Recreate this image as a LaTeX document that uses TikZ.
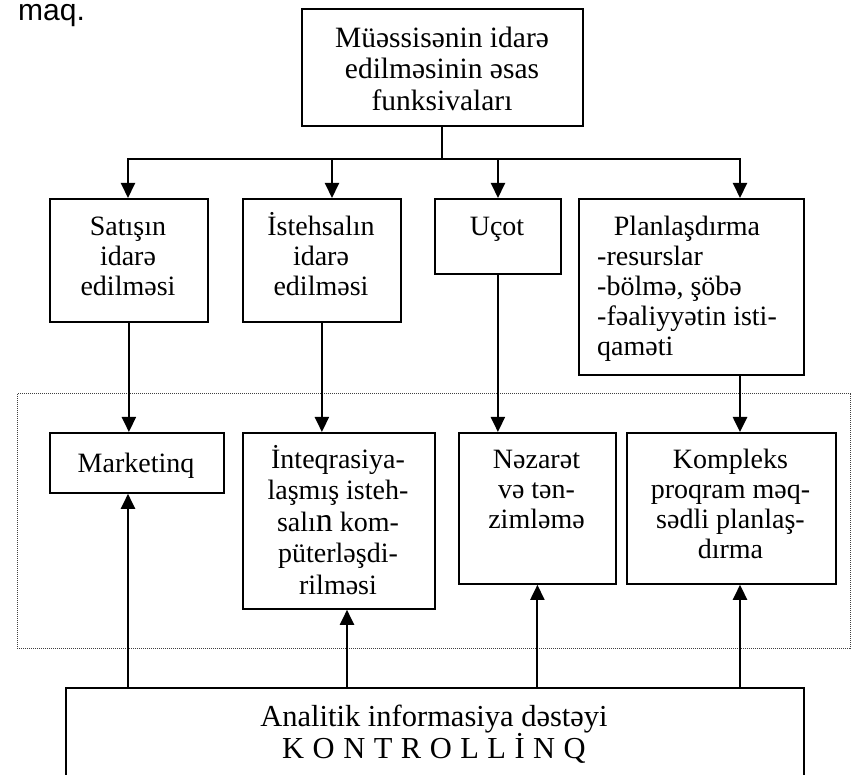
\documentclass[tikz,border=0pt]{standalone}
\usepackage{fontspec}
\setmainfont{Liberation Serif}
\newfontfamily\headsans{Liberation Sans}
\usetikzlibrary{arrows.meta}

\newcommand\capstrut{\rule{0pt}{24pt}}
\newcommand\bigstrut{\rule{0pt}{25pt}}

\begin{document}
\begin{tikzpicture}[x=1pt,y=-1pt,
  box/.style={draw, line width=1.8pt, inner sep=0pt, anchor=north west},
  lbl/.style={inner sep=0pt, anchor=north, align=center, font=\fontsize{28}{30}\selectfont},
  tip/.style={-{Triangle[length=15pt,width=14pt]}},
  arr/.style={line width=2pt, tip},
  heavy/.style={line width=2.6pt, tip},
  link/.style={line width=2pt},
  frame/.style={draw=black!75, line width=1pt, dash pattern=on 1pt off 1pt}]

\useasboundingbox (0,0) rectangle (852,775);
\fill[white] (0,0) rectangle (852,775);
\clip (0,0) rectangle (852,775);

% leftover of the preceding line of text
\node[anchor=base west, inner sep=0pt, font=\headsans\fontsize{30}{30}\selectfont] (maq) at (18,21) {maq.};

% head block
\node[box, minimum width=281pt, minimum height=117pt] (top) at (301,8) {};
\node[lbl, font=\fontsize{29.5}{31.5}\selectfont] (topt) at (442,22)
  {\bigstrut Müəssisənin idarə\\edilməsinin əsas\\funksivaları};

% first row: functions
\node[box, minimum width=158pt, minimum height=123pt] (sat) at (49,198) {};
\node[lbl] (satt) at (128,211) {\capstrut Satışın\\idarə\\edilməsi};

\node[box, minimum width=158pt, minimum height=123pt] (ist) at (242,198) {};
\node[lbl] (istt) at (321,211) {\capstrut İstehsalın\\idarə\\edilməsi};

\node[box, minimum width=126pt, minimum height=75pt] (ucot) at (434,198) {};
\node[lbl] (ucott) at (497,211) {\capstrut Uçot};

\node[box, minimum width=225pt, minimum height=176pt] (plan) at (578,198) {};
\node[inner sep=0pt, anchor=north west, font=\fontsize{28}{30}\selectfont] (plant) at (597,211)
  {\begin{tabular}{@{}l@{}}
     \multicolumn{1}{@{}c@{}}{\capstrut Planlaşdırma}\\
     -resurslar\\
     -bölmə, şöbə\\
     -fəaliyyətin isti-\\
     qaməti
   \end{tabular}};

% dotted frame around the second row
\draw[frame] (17,394) rectangle (850,648);

% second row: controlling tasks
\node[box, minimum width=174pt, minimum height=60pt] (mark) at (49,432) {};
\node[lbl] (markt) at (136,448) {\capstrut Marketinq};

\node[box, minimum width=192pt, minimum height=176pt] (int) at (242,432) {};
\node[lbl, font=\fontsize{28}{31.5}\selectfont] (intt) at (338,444)
  {\capstrut İnteqrasiya-\\laşmış isteh-\\salı{\fontsize{34}{31.5}\selectfont n} kom-\\püterləşdi-\\rilməsi};

\node[box, minimum width=157pt, minimum height=151pt] (nez) at (458,432) {};
\node[lbl] (nezt) at (536.5,444) {\capstrut Nəzarət\\və tən-\\zimləmə};

\node[box, minimum width=209pt, minimum height=151pt] (komp) at (626,432) {};
\node[lbl] (kompt) at (730.5,444) {\capstrut Kompleks\\proqram məq-\\sədli planlaş-\\dırma};

% analytic support block
\node[box, minimum width=738pt, minimum height=150pt] (bot) at (65,687) {};
\node[lbl, font=\fontsize{30.5}{31.5}\selectfont] (bott) at (434,701)
  {\bigstrut Analitik informasiya dəstəyi\\{\spaceskip=8.5pt K O N T R O L L İ N Q}};

% distribution bus
\coordinate (b1) at (128,159);
\coordinate (b2) at (332,159);
\coordinate (b3) at (498,159);
\coordinate (b4) at (740,159);
\coordinate (u2) at (347,687);

\draw[link] (top.south) -- (top.south |- b1);
\draw[line width=2pt, {Triangle[length=15pt,width=14pt]}-{Triangle[length=15pt,width=14pt]}]
  (b1 |- sat.north) -- (b1) -- (b4) -- (b4 |- plan.north);
\draw[arr] (b2) -- (b2 |- ist.north);
\draw[arr] (b3) -- (b3 |- ucot.north);

% first row to second row
\draw[arr] (sat.south) -- (sat.south |- mark.north);
\draw[arr] (ist.south) -- (ist.south |- int.north);
\draw[arr] (ucot.south) -- (ucot.south |- nez.north);
\draw[heavy] (b4 |- plan.south) -- (b4 |- komp.north);

% analytic support feeding upwards
\draw[arr] (b1 |- bot.north) -- (b1 |- mark.south);
\draw[arr] (u2) -- (u2 |- int.south);
\draw[arr] (nez.south |- bot.north) -- (nez.south);
\draw[heavy] (b4 |- bot.north) -- (b4 |- komp.south);
\end{tikzpicture}
\end{document}
